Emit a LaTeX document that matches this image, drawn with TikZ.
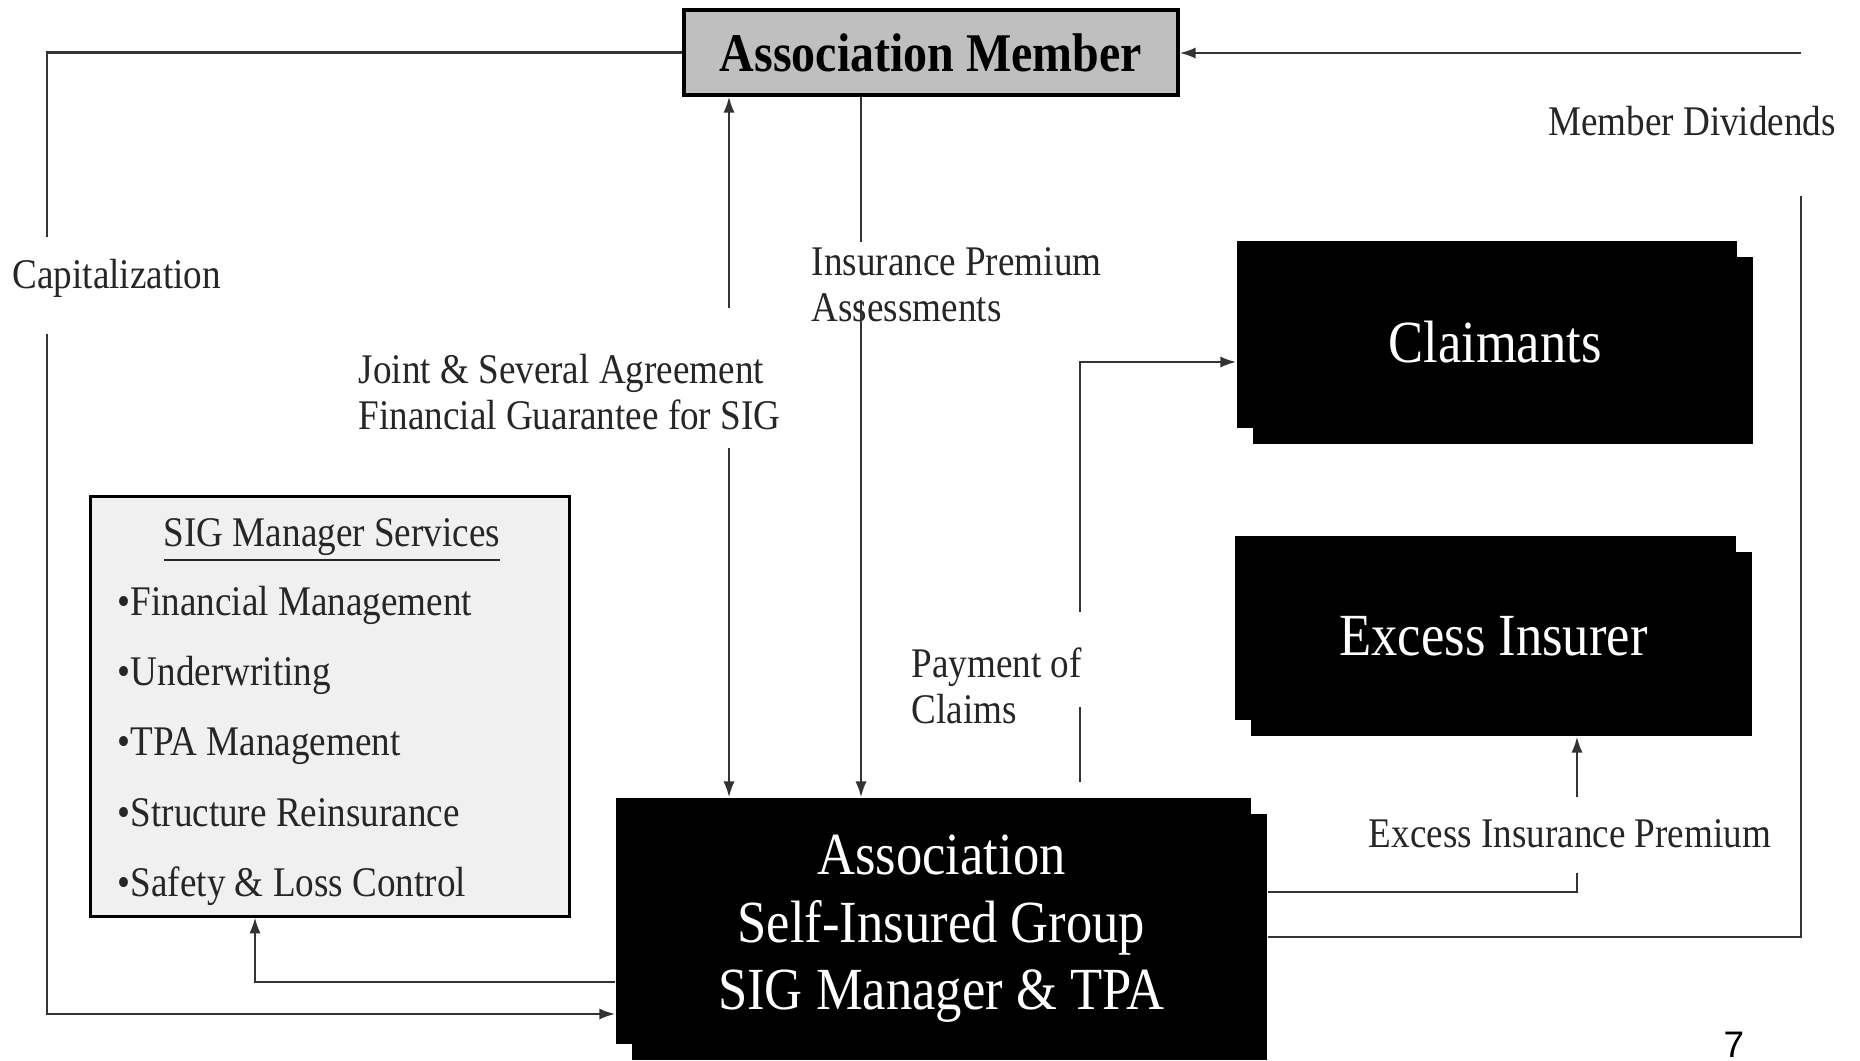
\documentclass[tikz,border=0pt]{standalone}
\usepackage{fontspec}
\setmainfont{Liberation Serif}[FakeStretch=0.88]
\newfontfamily\pagefont{Liberation Sans}
\usetikzlibrary{arrows.meta}
\tikzset{
  blkbox/.style={fill=black, text=white, inner sep=0pt, align=center,
    font=\fontsize{17}{19.2}\selectfont,
    path picture={
      \fill[white] (path picture bounding box.north east) rectangle +(-0.16cm,-0.16cm);
      \fill[white] (path picture bounding box.south west) rectangle +(0.16cm,0.16cm);}},
  lbl/.style={text=black!85, align=left, inner sep=0pt, font=\fontsize{12}{13.2}\selectfont},
  svcitem/.style={text=black!85, inner sep=0pt, anchor=base west, font=\fontsize{12}{14}\selectfont},
  flow/.style={line width=0.6pt, draw=black!80},
}

\begin{document}
\begin{tikzpicture}[x=0.01cm, y=-0.01cm, >={Latex[length=4.5pt,width=3.2pt]}]
  \useasboundingbox (0,0) rectangle (1860,1060);

  \node (am) at (931,52.5) [draw, line width=1pt, fill=black!25, minimum width=4.94cm, minimum height=0.85cm,
    inner sep=0pt, font=\bfseries\fontsize{15.5}{18}\selectfont] {Association Member};
  \node (svc) at (330,706.5) [draw, line width=0.8pt, fill=black!6, minimum width=4.78cm, minimum height=4.19cm] {};
  \node (clm) at (1495,342.5) [blkbox, minimum width=5.16cm, minimum height=2.03cm] {Claimants};
  \node (exc) at (1493.5,636) [blkbox, minimum width=5.17cm, minimum height=2cm] {Excess Insurer};
  \node (sig) at (941.5,929) [blkbox, minimum width=6.51cm, minimum height=2.62cm]
    {Association\\Self-Insured Group\\SIG Manager \& TPA};

  \node[svcitem, anchor=base] (svcHead) at (332,546) {\underline{SIG Manager Services}};
  \node[svcitem] (svcA) at (117,615) {\textbullet Financial Management};
  \node[svcitem] (svcB) at (117,685) {\textbullet Underwriting};
  \node[svcitem] (svcC) at (117,755) {\textbullet TPA Management};
  \node[svcitem] (svcD) at (117,826) {\textbullet Structure Reinsurance};
  \node[svcitem] (svcE) at (117,896) {\textbullet Safety \& Loss Control};

  \node[lbl, anchor=west] (capLbl) at (12,278) {Capitalization};
  \node[lbl, anchor=west] (jsaLbl) at (358,392) {Joint \& Several Agreement\\Financial Guarantee for SIG};
  \node[lbl, anchor=west] (premLbl) at (811,285) {Insurance Premium\\Assessments};
  \node[lbl, anchor=west] (payLbl) at (911,686) {Payment of\\Claims};
  \node[lbl] (divLbl) at (1692,121) {Member Dividends};
  \node[lbl] (excLbl) at (1570,834) {Excess Insurance Premium};
  \node (pg) at (1734,1045) {\pagefont\fontsize{10.5}{12}\selectfont 7};

  \coordinate (capA) at (47,237);
  \coordinate (capB) at (47,334);
  \coordinate (jsaA) at (729,308);
  \coordinate (jsaB) at (729,448);
  \coordinate (premA) at (861,242);
  \coordinate (premB) at (861,300);
  \coordinate (payA) at (1080,782);
  \coordinate (payB) at (1080,707);
  \coordinate (payC) at (1080,612);
  \coordinate (excA) at (1577,873);
  \coordinate (excB) at (1577,797);
  \coordinate (divA) at (1801,196);
  \coordinate (divB) at (1801,53);

  \draw[flow] (am.west) -| (capA);
  \draw[flow,->] (capB) |- (sig.west |- 0,1014);
  \draw[flow,->] (sig.west |- 0,982) -| (255,0 |- svc.south);
  \draw[flow,->] (jsaA) -- (am.south -| jsaA);
  \draw[flow,->] (jsaB) -- (sig.north -| jsaB);
  \draw[flow] (am.south -| premA) -- (premA);
  \draw[flow,->] (premB) -- (sig.north -| premB);
  \draw[flow] (payA) -- (payB);
  \draw[flow,->] (payC) |- (clm.west |- 0,362);
  \draw[flow] (sig.east |- 0,892) -| (excA);
  \draw[flow,->] (excB) -- (exc.south -| excB);
  \draw[flow] (sig.east |- 0,937) -| (divA);
  \draw[flow,->] (divB) -- (am.east |- divB);
\end{tikzpicture}
\end{document}
